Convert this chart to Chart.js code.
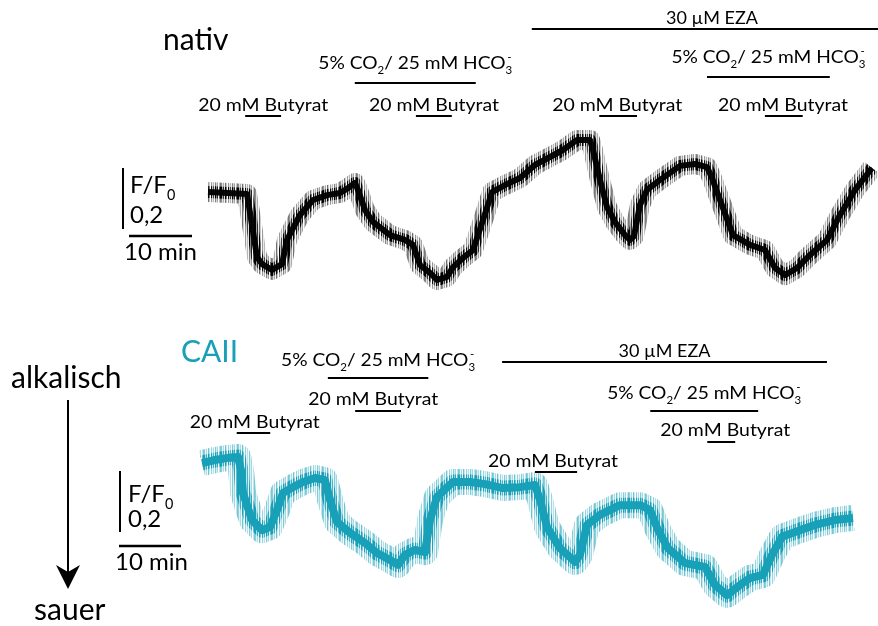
<!DOCTYPE html>
<html>
<head>
<meta charset="utf-8">
<script src="https://cdn.jsdelivr.net/npm/chart.js@4/dist/chart.umd.min.js"></script>
<style>
  html, body { margin: 0; padding: 0; background: #fff; overflow: hidden; }
  canvas { display: block; }
</style>
</head>
<body>
<canvas id="trace" width="878" height="626"></canvas>
<script>
// ---- Recorded traces: time (min) and normalised fluorescence F/F0 ----
const nativTime = [0, 3.17, 6.19, 6.98, 7.78, 8.57, 10.16, 11.75, 12.54, 14.60, 16.67, 18.89, 20.95,
  22.22, 23.33, 23.81, 24.92, 26.19, 28.89, 31.27, 32.54, 33.65, 35.24, 36.35, 37.94, 38.89, 40.48,
  42.06, 43.65, 45.08, 47.14, 49.52, 51.90, 54.29, 56.35, 58.57, 60.63, 61.11, 62.22, 63.33, 64.60,
  66.19, 66.98, 67.62, 68.57, 69.68, 71.75, 74.92, 77.30, 79.21, 80.00, 81.27, 83.33, 86.03, 88.41,
  90.00, 91.59, 93.49, 95.56, 98.25, 100.32, 102.70, 105.40];
const nativRatio = [1.003, 1.000, 0.997, 0.895, 0.790, 0.767, 0.748, 0.767, 0.846, 0.928, 0.977, 0.993, 1.000,
  1.016, 1.033, 1.010, 0.944, 0.905, 0.862, 0.846, 0.830, 0.764, 0.738, 0.715, 0.725, 0.757, 0.787,
  0.813, 0.911, 1.003, 1.026, 1.049, 1.092, 1.118, 1.141, 1.174, 1.174, 1.141, 1.043, 0.954, 0.905,
  0.862, 0.846, 0.859, 0.961, 1.010, 1.043, 1.089, 1.095, 1.085, 1.049, 0.977, 0.862, 0.830, 0.813,
  0.754, 0.731, 0.754, 0.797, 0.846, 0.928, 1.010, 1.082];

const caiiTime = [0, 2.10, 4.19, 5.81, 6.29, 6.61, 7.26, 8.06, 9.68, 10.97, 12.10, 13.06, 14.68, 16.29,
  18.23, 19.84, 20.65, 21.77, 23.87, 26.29, 28.23, 30.32, 31.61, 32.74, 34.35, 35.97, 36.77, 37.90,
  40.48, 43.23, 45.65, 48.55, 51.29, 53.71, 54.52, 55.65, 57.74, 60.16, 60.97, 62.10, 64.19, 67.42,
  70.65, 72.26, 73.55, 75.16, 77.90, 81.13, 82.74, 84.68, 86.77, 88.39, 90.48, 91.94, 93.55, 96.45,
  98.87, 102.10, 105.00];
const caiiRatio = [0.990, 1.000, 1.007, 1.010, 0.967, 0.892, 0.852, 0.803, 0.770, 0.780, 0.836, 0.892, 0.911, 0.928,
  0.941, 0.934, 0.869, 0.797, 0.761, 0.728, 0.695, 0.672, 0.656, 0.689, 0.705, 0.698, 0.803, 0.879,
  0.928, 0.928, 0.921, 0.908, 0.911, 0.918, 0.869, 0.780, 0.711, 0.666, 0.689, 0.787, 0.820, 0.852,
  0.852, 0.836, 0.770, 0.711, 0.662, 0.649, 0.590, 0.557, 0.590, 0.613, 0.623, 0.689, 0.748, 0.770,
  0.787, 0.803, 0.810];

// ---- Superfusion protocol: [start, end] in minutes ----
const nativButyrat = [[5.9, 11.6], [33.0, 38.7], [62.1, 68.1], [88.4, 94.4]];
const nativCO2 = [[23.3, 42.5], [79.2, 98.7]];
const nativEZA = [51.4, 106.7];
const caiiButyrat = [[5.6, 11.0], [24.7, 32.1], [53.7, 60.5], [81.5, 86.0]];
const caiiCO2 = [[20.3, 36.5], [72.3, 89.7]];
const caiiEZA = [48.4, 100.8];

// ---- Scale bar sizes ----
const scaleMinutes = 10;
const scaleRatio = 0.2;

// ---- Labels ----
const butyratLabel = [{ t: '20 mM Butyrat' }];
const co2Label = [{ t: '5% CO' }, { t: '2', sub: true }, { t: '/ 25 mM HCO' }, { t: '3', sub: true, sup: '-' }];
const ezaLabel = [{ t: '30 \u00B5M EZA' }];
const ratioLabel = [{ t: 'F/F' }, { t: '0', sub: true }];

const FONT = 'Lato, "Open Sans", sans-serif';
const TEAL = '#17a0b8';
const INK = '#000000';

const toPoints = (xs, ys) => xs.map((x, i) => ({ x, y: ys[i] }));

// striated stroke texture so the wide trace stroke reads as a dense recording
const STRIPES = [0.55, 0.15, 0.4, 0.05, 0.7, 0.25, 0.0, 0.5, 0.1, 0.35, 0.05, 0.6, 0.2, 0.45, 0.0, 0.3, 0.65];
function stripePattern(rgb, gain) {
  const tile = document.createElement('canvas');
  tile.width = STRIPES.length;
  tile.height = 1;
  const t = tile.getContext('2d');
  STRIPES.forEach((a, i) => {
    t.fillStyle = `rgba(${rgb},${Math.min(1, a * gain)})`;
    t.fillRect(i, 0, 1, 1);
  });
  return t.createPattern(tile, 'repeat');
}

// rich text: pieces with optional subscript / stacked superscript, stretched to a given width
function drawRich(ctx, parts, x, y, size, width, align, color) {
  const small = size * 0.6;
  const widths = parts.map(p => {
    ctx.font = `${p.sub ? small : size}px ${FONT}`;
    return ctx.measureText(p.t).width;
  });
  const natural = widths.reduce((a, b) => a + b, 0);
  const sx = width ? width / natural : 1;
  const left = align === 'center' ? x - natural * sx / 2 : x;
  ctx.save();
  ctx.fillStyle = color || INK;
  ctx.textBaseline = 'alphabetic';
  ctx.textAlign = 'left';
  ctx.translate(left, y);
  ctx.scale(sx, 1);
  let cx = 0;
  parts.forEach((p, i) => {
    ctx.font = `${p.sub ? small : size}px ${FONT}`;
    ctx.fillText(p.t, cx, p.sub ? size * 0.3 : 0);
    if (p.sup) ctx.fillText(p.sup, cx + widths[i] * 0.25, -size * 0.45);
    cx += widths[i];
  });
  ctx.restore();
}

function hLine(ctx, x0, x1, y, w) {
  ctx.beginPath();
  ctx.moveTo(x0, y);
  ctx.lineTo(x1, y);
  ctx.lineWidth = w || 2;
  ctx.strokeStyle = INK;
  ctx.stroke();
}
function vLine(ctx, x, y0, y1, w) {
  ctx.beginPath();
  ctx.moveTo(x, y0);
  ctx.lineTo(x, y1);
  ctx.lineWidth = w || 2;
  ctx.strokeStyle = INK;
  ctx.stroke();
}

// panel layout (pixel rows for protocol bars and their captions)
const panels = [
  {
    xId: 'x', yId: 'y',
    butyrat: nativButyrat, butyratRows: [116, 116, 116, 116], butyratBase: [111, 111, 111, 111],
    co2: nativCO2, co2Rows: [83, 77], co2Base: [69, 63],
    eza: nativEZA, ezaRow: 29, ezaBase: 24, ezaShift: 6,
    scale: { vx: 123, vy: 168, tx: 130, fBase: 193, nBase: 223, hx: 129, hy: 236, mx: 124, mBase: 260 }
  },
  {
    xId: 'x2', yId: 'y2',
    butyrat: caiiButyrat, butyratRows: [433, 411, 472, 442], butyratBase: [428, 405, 467, 436],
    co2: caiiCO2, co2Rows: [378, 411], co2Base: [366, 399],
    eza: caiiEZA, ezaRow: 362, ezaBase: 357, ezaShift: 0,
    scale: { vx: 120, vy: 471, tx: 128, fBase: 502, nBase: 527, hx: 119, hy: 546, mx: 115, mBase: 570 }
  }
];

const protocolPlugin = {
  id: 'protocol',
  afterDatasetsDraw(chart) {
    const ctx = chart.ctx;
    ctx.save();
    ctx.lineCap = 'butt';
    panels.forEach(p => {
      const xs = chart.scales[p.xId];
      const ys = chart.scales[p.yId];
      const px = v => xs.getPixelForValue(v);

      // Butyrat pulses
      p.butyrat.forEach((iv, i) => {
        const a = px(iv[0]), b = px(iv[1]);
        hLine(ctx, a, b, p.butyratRows[i], 2);
        drawRich(ctx, butyratLabel, a - 47, p.butyratBase[i], 18, 130, 'left');
      });
      // CO2 / HCO3- periods
      p.co2.forEach((iv, i) => {
        const a = px(iv[0]), b = px(iv[1]);
        hLine(ctx, a, b, p.co2Rows[i], 2);
        drawRich(ctx, co2Label, (a + b) / 2, p.co2Base[i], 18, 194, 'center');
      });
      // EZA
      {
        const a = px(p.eza[0]), b = px(p.eza[1]);
        hLine(ctx, a, b, p.ezaRow, 2);
        drawRich(ctx, ezaLabel, (a + b) / 2 + p.ezaShift, p.ezaBase, 18, 92, 'center');
      }
      // scale bars
      const s = p.scale;
      const vLen = ys.getPixelForValue(1) - ys.getPixelForValue(1 + scaleRatio);
      const hLen = px(scaleMinutes) - px(0);
      vLine(ctx, s.vx, s.vy, s.vy + vLen, 2);
      hLine(ctx, s.hx, s.hx + hLen, s.hy, 2.5);
      drawRich(ctx, ratioLabel, s.tx, s.fBase, 24, null, 'left');
      drawRich(ctx, [{ t: '0,2' }], s.tx, s.nBase, 24, null, 'left');
      drawRich(ctx, [{ t: '10 min' }], s.mx, s.mBase, 24, 73, 'left');
    });

    // panel titles and pH direction
    drawRich(ctx, [{ t: 'nativ' }], 163, 50, 30, null, 'left');
    drawRich(ctx, [{ t: 'CAII' }], 181, 362, 30, null, 'left', TEAL);
    drawRich(ctx, [{ t: 'alkalisch' }], 11, 388, 30, null, 'left');
    drawRich(ctx, [{ t: 'sauer' }], 34, 620, 30, null, 'left');

    vLine(ctx, 68, 400, 576, 2);
    ctx.beginPath();
    ctx.moveTo(68, 589);
    ctx.lineTo(56, 565);
    ctx.lineTo(68, 572);
    ctx.lineTo(80, 565);
    ctx.closePath();
    ctx.fillStyle = INK;
    ctx.fill();
    ctx.restore();
  }
};

const common = { showLine: true, pointRadius: 0, tension: 0, clip: false, borderJoinStyle: 'round', borderCapStyle: 'butt' };
const nativPts = toPoints(nativTime, nativRatio);
const caiiPts = toPoints(caiiTime, caiiRatio);

new Chart(document.getElementById('trace'), {
  type: 'scatter',
  data: {
    datasets: [
      { ...common, label: 'nativ fringe', data: nativPts, xAxisID: 'x', yAxisID: 'y',
        borderColor: stripePattern('0,0,0', 0.8), borderWidth: 20 },
      { ...common, label: 'nativ band', data: nativPts, xAxisID: 'x', yAxisID: 'y',
        borderColor: stripePattern('0,0,0', 1.8), borderWidth: 12 },
      { ...common, label: 'nativ', data: nativPts, xAxisID: 'x', yAxisID: 'y',
        borderColor: '#0a0a0a', borderWidth: 6 },
      { ...common, label: 'CAII fringe', data: caiiPts, xAxisID: 'x2', yAxisID: 'y2',
        borderColor: stripePattern('23,160,184', 0.9), borderWidth: 26 },
      { ...common, label: 'CAII band', data: caiiPts, xAxisID: 'x2', yAxisID: 'y2',
        borderColor: stripePattern('23,160,184', 1.9), borderWidth: 15 },
      { ...common, label: 'CAII', data: caiiPts, xAxisID: 'x2', yAxisID: 'y2',
        borderColor: TEAL, borderWidth: 8 }
    ]
  },
  options: {
    responsive: false,
    animation: false,
    devicePixelRatio: 1,
    events: [],
    layout: { padding: 0 },
    plugins: { legend: { display: false }, tooltip: { enabled: false }, title: { display: false } },
    scales: {
      x:  { type: 'linear', display: false, min: -33.016, max: 106.349 },
      y:  { type: 'linear', display: false, min: -0.4197, max: 1.6328 },
      x2: { type: 'linear', display: false, min: -32.581, max: 109.032 },
      y2: { type: 'linear', display: false, min: 0.4557, max: 2.5082 }
    }
  },
  plugins: [protocolPlugin]
});
</script>
</body>
</html>
